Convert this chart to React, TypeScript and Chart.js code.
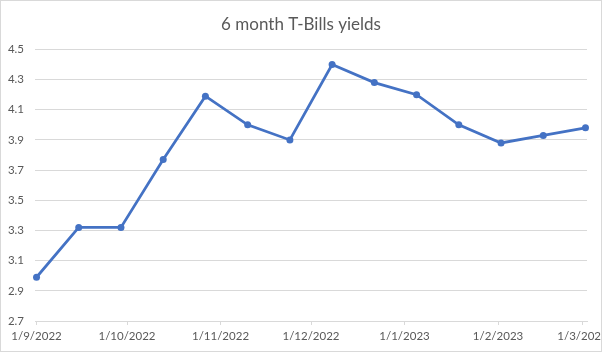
import React, { useEffect, useRef } from "react";
import { Chart, registerables } from "chart.js";

Chart.register(...registerables);

// Data (biweekly observations)
const dates: string[] = [
  "2022-09-01", "2022-09-15", "2022-09-29", "2022-10-13", "2022-10-27",
  "2022-11-10", "2022-11-24", "2022-12-08", "2022-12-22", "2023-01-05",
  "2023-01-19", "2023-02-02", "2023-02-16", "2023-03-02",
];
const yields: number[] = [
  2.99, 3.32, 3.32, 3.77, 4.19, 4.0, 3.9, 4.4, 4.28, 4.2, 4.0, 3.88, 3.93, 3.98,
];
const tickDates: string[] = [
  "2022-09-01", "2022-10-01", "2022-11-01", "2022-12-01", "2023-01-01", "2023-02-01", "2023-03-01",
];
const tickLabels: string[] = [
  "1/9/2022", "1/10/2022", "1/11/2022", "1/12/2022", "1/1/2023", "1/2/2023", "1/3/2023",
];
const title = "6 month T-Bills yields";

const DAY = 86400000;
const origin = Date.parse(dates[0] + "T00:00:00Z");
const toDay = (d: string) => Math.round((Date.parse(d + "T00:00:00Z") - origin) / DAY);

export default function App() {
  const ref = useRef<HTMLCanvasElement>(null);
  useEffect(() => {
    if (!ref.current) return;
    const points = dates.map((d, i) => ({ x: toDay(d), y: yields[i] }));
    const tickDays = tickDates.map(toDay);
    const lastDay = toDay(dates[dates.length - 1]);
    const font = { family: "Lato, 'Liberation Sans', sans-serif", size: 11.5 };
    const chart = new Chart(ref.current, {
      type: "line",
      data: {
        datasets: [
          {
            data: points,
            borderColor: "#4472C4",
            backgroundColor: "#4472C4",
            borderWidth: 2.75,
            pointRadius: 3.5,
            pointBorderWidth: 0,
            pointBackgroundColor: "#4472C4",
            tension: 0,
            clip: false,
          },
        ],
      },
      options: {
        responsive: false,
        animation: false,
        layout: { padding: { left: 0, right: 0, top: 0, bottom: 0 } },
        plugins: {
          legend: { display: false },
          tooltip: { enabled: false },
          title: {
            display: true,
            text: title,
            color: "#595959",
            font: { family: "Lato, 'Liberation Sans', sans-serif", size: 17, weight: "normal" },
            padding: { top: 13, bottom: 15 },
          },
        },
        scales: {
          x: {
            type: "linear",
            min: -0.5,
            max: lastDay + 0.5,
            afterBuildTicks: (scale: any) => {
              scale.ticks = tickDays.map((v) => ({ value: v }));
            },
            afterFit: (scale: any) => {
              scale.paddingLeft = 0;
              scale.paddingRight = 14;
              scale.height = 30;
            },
            ticks: {
              autoSkip: false,
              maxRotation: 0,
              minRotation: 0,
              color: "#595959",
              font,
              padding: 4,
              callback: (v: any) => {
                const i = tickDays.indexOf(Number(v));
                return i >= 0 ? tickLabels[i] : "";
              },
            },
            grid: {
              drawOnChartArea: false,
              drawTicks: true,
              tickLength: 4,
              color: "#d9d9d9",
            },
            border: { display: true, color: "#d9d9d9", width: 1 },
          },
          y: {
            min: 2.7,
            max: 4.5,
            afterFit: (scale: any) => {
              scale.width = 34;
              scale.paddingTop = 0;
              scale.paddingBottom = 0;
            },
            ticks: {
              stepSize: 0.2,
              color: "#595959",
              font,
              padding: 11,
              callback: (v: any) => Number(v).toFixed(1),
            },
            grid: { color: "#d9d9d9", drawTicks: false },
            border: { display: false },
          },
        },
      },
    } as any);
    return () => chart.destroy();
  }, []);
  return (
    <div
      style={{
        position: "absolute",
        left: 0,
        top: 0,
        width: 602,
        height: 352,
        boxSizing: "border-box",
        border: "1px solid #d9d9d9",
        background: "#fff",
        overflow: "hidden",
      }}
    >
      <canvas ref={ref} width={600} height={350} style={{ display: "block", width: 600, height: 350 }} />
    </div>
  );
}
